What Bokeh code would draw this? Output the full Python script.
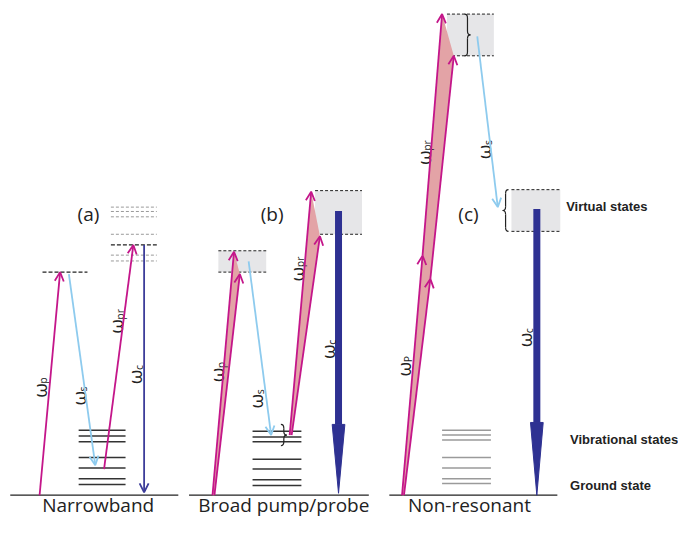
import math
from bokeh.plotting import figure
from bokeh.models import Range1d, ColumnDataSource, Arrow, OpenHead
from bokeh.core.properties import value
from bokeh.embed import file_html
from bokeh.resources import INLINE

# ---------------- data (diagram coordinates, reference pixel space) ----------------
panel_names = ["Narrowband", "Broad pump/probe", "Non-resonant"]
panel_name_x = [100, 290, 480]
panel_name_y = [520, 520, 520]
panel_tags = ["(a)", "(b)", "(c)"]
panel_tag_x = [90, 278, 479]
panel_tag_y = [220, 220, 220]

ground_y = 510
ground_x0 = [10, 193, 398]
ground_x1 = [182, 377, 570]

vib_a = [443, 449, 455, 471, 482, 493, 499]
vib_b = [444, 450, 455, 473, 483, 494, 500]
vib_c = [443, 448, 453, 471, 482, 493, 498]
vib_x0 = [80, 258, 452]
vib_x1 = [128, 308, 502]

# narrowband virtual levels
virt_a_grey = [213, 217.5, 223, 241, 262.5, 268.5]
virt_a_main = 252
virt_a_x = (113, 160)
virt_a_pump = 280
virt_a_pump_x = (43, 89)

# shaded virtual-state bands: x0, x1, y_top, y_bottom
band_x0 = [223, 322, 457, 523]
band_x1 = [272, 370, 505, 573]
band_top = [258, 196, 14, 195]
band_bot = [280, 241, 57, 238]

# magenta excitation arrows (pump / probe)
mag_x0 = [40, 106, 217, 219, 296, 298, 411, 413, 432, 440]
mag_y0 = [510, 483, 510, 510, 448, 448, 510, 510, 263, 287]
mag_x1 = [61, 136, 239, 245, 318, 327, 432, 440, 452, 464]
mag_y1 = [280, 252, 259, 282, 197, 243, 263, 287, 14, 57]

# pink spectral-width wedges
wedge_x = [[217, 239, 245, 219], [296, 318, 327, 298],
           [411, 432, 452, 464, 440, 413]]
wedge_y = [[510, 259, 282, 510], [448, 197, 243, 448],
           [510, 263, 14, 57, 287, 510]]

# Stokes arrows
st_x0 = [70, 254, 488]
st_y0 = [282, 269, 37]
st_x1 = [97, 277, 509]
st_y1 = [479, 448, 213]

# CARS signal arrows
cars_a = (147, 252, 507)              # x, top, tip
cars_x = [346, 549]
cars_top = [217, 215]
cars_head = [437, 435]
cars_tip = [508, 510]

# braces: x, y_top, y_bottom, direction (+1 "}", -1 "{")
brace_x = [287, 475, 520]
brace_t = [437, 14, 195]
brace_b = [459, 57, 238]
brace_d = [1, 1, -1]

# rotated frequency labels
lab_x = [40, 80, 118, 138, 222, 262, 303, 335, 413, 495, 433, 537]
lab_y = [402, 410, 336, 388, 386, 413, 282, 362, 380, 156, 162, 350]
lab_sub = ["p", "s", "pr", "c", "p", "s", "pr", "c", "P", "s", "pr", "c"]

side_labels = ["Virtual states", "Vibrational states", "Ground state"]
side_y = [212, 453, 500]
side_x = [579, 583, 583]

# ---------------- colours ----------------
MAG = "#c4168a"
LBLUE = "#8ecbee"
DBLUE = "#2e3192"
DBLUE_A = "#3d3d9a"
PINK = "#e3a3a6"
BAND = "#e6e6e8"
VIB = "#333333"
VIB_C = "#9a9a9a"

p = figure(width=678, height=518, x_range=Range1d(0, 694), y_range=Range1d(534, 0),
           output_backend="svg", toolbar_location=None, min_border=0,
           x_axis_location=None, y_axis_location=None)
p.grid.visible = False
p.outline_line_color = None

# bands
p.quad(left=band_x0, right=band_x1, top=band_top, bottom=band_bot,
       fill_color=BAND, line_color=None)
p.segment(x0=band_x0 + band_x0, x1=band_x1 + band_x1, y0=band_top + band_bot,
          y1=band_top + band_bot, line_color="#222222", line_width=1, line_dash="3 2")

# narrowband virtual levels
p.segment(x0=[virt_a_x[0]] * len(virt_a_grey), x1=[virt_a_x[1]] * len(virt_a_grey),
          y0=virt_a_grey, y1=virt_a_grey, line_color="#9a9a9a", line_width=1, line_dash="3 2")
p.segment(x0=[virt_a_x[0], virt_a_pump_x[0]], x1=[virt_a_x[1], virt_a_pump_x[1]],
          y0=[virt_a_main, virt_a_pump], y1=[virt_a_main, virt_a_pump],
          line_color="#222222", line_width=1.2, line_dash="4 2")

# ground lines
p.segment(x0=ground_x0, x1=ground_x1, y0=[ground_y] * 3, y1=[ground_y] * 3,
          line_color="#222222", line_width=1.2)

# vibrational levels
for levels, x0, x1, col in zip([vib_a, vib_b, vib_c], vib_x0, vib_x1, [VIB, VIB, VIB_C]):
    p.segment(x0=[x0] * len(levels), x1=[x1] * len(levels), y0=levels, y1=levels,
              line_color=col, line_width=1.5)

# pink wedges
p.patches(xs=wedge_x, ys=wedge_y, fill_color=PINK, line_color=None)

# braces
for bx, bt, bb, d in zip(brace_x, brace_t, brace_b, brace_d):
    w = 6 * d
    ym = (bt + bb) / 2
    r = min(4, (bb - bt) / 5)
    xm = bx + w / 2
    p.quadratic(x0=[bx, xm, bx, xm], y0=[bt, ym - r, bb, ym + r],
                x1=[xm, bx + w, xm, bx + w], y1=[bt + r, ym, bb - r, ym],
                cx=[xm, xm, xm, xm], cy=[bt, ym, bb, ym], line_color="#222222", line_width=1.2)
    p.segment(x0=[xm, xm], x1=[xm, xm], y0=[bt + r, ym + r], y1=[ym - r, bb - r],
              line_color="#222222", line_width=1.2)

def arrows(x0, y0, x1, y1, color, lw, size):
    src = ColumnDataSource(dict(x0=x0, y0=y0, x1=x1, y1=y1))
    p.add_layout(Arrow(end=OpenHead(size=size, line_color=color, line_width=lw),
                       x_start="x0", y_start="y0", x_end="x1", y_end="y1",
                       line_color=color, line_width=lw, source=src))

arrows(mag_x0, mag_y0, mag_x1, mag_y1, MAG, 1.8, 9)
arrows(st_x0, st_y0, st_x1, st_y1, LBLUE, 1.8, 9)
arrows([cars_a[0]], [cars_a[1]], [cars_a[0]], [cars_a[2]], DBLUE_A, 1.8, 9)

# thick CARS arrows
p.segment(x0=cars_x, x1=cars_x, y0=cars_top, y1=cars_head, line_color=DBLUE, line_width=7)
p.patches(xs=[[x - 6.5, x + 6.5, x] for x in cars_x],
          ys=[[h, h, t] for h, t in zip(cars_head, cars_tip)],
          fill_color=DBLUE, line_color=DBLUE, line_width=1)

# rotated labels
FONT = value("Open Sans")
p.text(x=lab_x, y=lab_y, text=["ω"] * len(lab_x), angle=math.pi / 2,
       text_font=FONT, text_font_size="19px", text_color="#222222",
       text_align="center", text_baseline="middle")
p.text(x=[x + 4 for x in lab_x], y=[y - 7 for y in lab_y], text=lab_sub, angle=math.pi / 2,
       text_font=FONT, text_font_size="10.5px", text_color="#222222",
       text_align="left", text_baseline="middle")

# panel tags and names
p.text(x=panel_tag_x, y=panel_tag_y, text=panel_tags, text_font=FONT,
       text_font_size="19px", text_color="#222222", text_align="center", text_baseline="middle")
p.text(x=panel_name_x, y=panel_name_y, text=panel_names, text_font=FONT,
       text_font_size="19px", text_color="#222222", text_align="center",
       text_baseline="middle")

# side labels
p.text(x=side_x, y=side_y, text=side_labels,
       text_font=value("Liberation Sans"), text_font_style="bold", text_font_size="13px",
       text_color="#222222", text_align="left", text_baseline="middle")

open("out.html", "w").write(file_html(p, INLINE))
